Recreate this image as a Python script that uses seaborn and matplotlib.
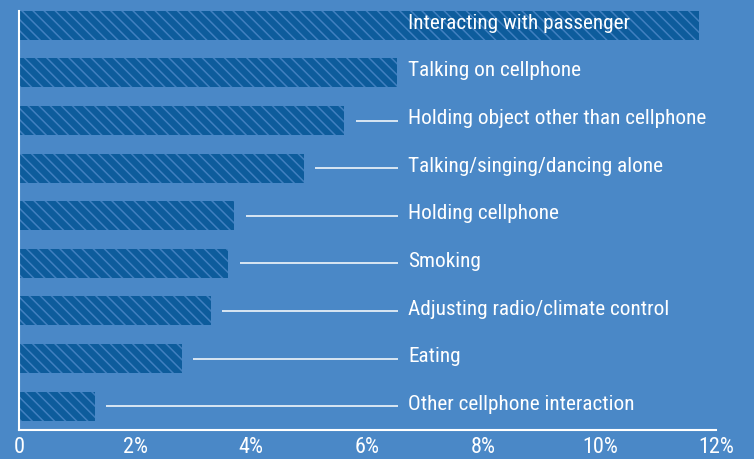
import matplotlib
matplotlib.use("Agg")
import matplotlib.pyplot as plt
import seaborn as sns
import pandas as pd

categories = [
    "Interacting with passenger",
    "Talking on cellphone",
    "Holding object other than cellphone",
    "Talking/singing/dancing alone",
    "Holding cellphone",
    "Smoking",
    "Adjusting radio/climate control",
    "Eating",
    "Other cellphone interaction",
]
values = [11.7, 6.5, 5.6, 4.9, 3.7, 3.6, 3.3, 2.8, 1.3]
tick_values = [0, 2, 4, 6, 8, 10, 12]
tick_labels = ["0", "2%", "4%", "6%", "8%", "10%", "12%"]

BG = "#4a88c7"
BAR = "#0d5c9c"
HATCH = "#4180c0"

sns.set_theme(style="white")
plt.rcParams["font.family"] = ["Roboto Condensed", "Liberation Sans Narrow", "Roboto", "DejaVu Sans"]
plt.rcParams["hatch.linewidth"] = 1.1

df = pd.DataFrame({"category": categories, "value": values})

fig = plt.figure(figsize=(7.54, 4.59), dpi=100, facecolor=BG)
ax = fig.add_axes([19 / 754, (459 - 430) / 459, (716 - 19) / 754, (430 - 11) / 459])
ax.set_facecolor(BG)

sns.barplot(data=df, x="value", y="category", orient="h", color=BAR,
            width=0.61, saturation=1, ax=ax)
for p in ax.patches:
    p.set_hatch("\\\\\\")
    p.set_edgecolor(HATCH)
    p.set_linewidth(0)

label_x = 6.7
line_end = 6.52
texts = []
for i, (cat, v) in enumerate(zip(categories, values)):
    start = v + 0.2
    if start < line_end:
        ax.hlines(i, start, line_end, color="white", linewidth=1.1)
    texts.append(ax.text(label_x, i - 0.04, cat, color="white", fontsize=15,
                         va="center", ha="left"))

ax.set_xlim(0, 12)
ax.set_ylim(8.5, -0.3)
ax.set_xticks(tick_values)
ax.set_xticklabels(tick_labels, color="white", fontsize=15)
ax.set_yticks([])
ax.set_xlabel("")
ax.set_ylabel("")
ax.tick_params(axis="x", length=0, pad=5)
for s in ["top", "right"]:
    ax.spines[s].set_visible(False)
for s in ["left", "bottom"]:
    ax.spines[s].set_color("white")
    ax.spines[s].set_linewidth(1.5)

# fit label font size so the longest label spans the same width as the reference
fig.canvas.draw()
r = fig.canvas.get_renderer()
w = texts[2].get_window_extent(r).width
size = 15 * 298.0 / w
for t in texts:
    t.set_fontsize(size)
for t in ax.get_xticklabels():
    t.set_fontsize(size * 1.05)

fig.savefig("out.png", dpi=100, facecolor=BG)
